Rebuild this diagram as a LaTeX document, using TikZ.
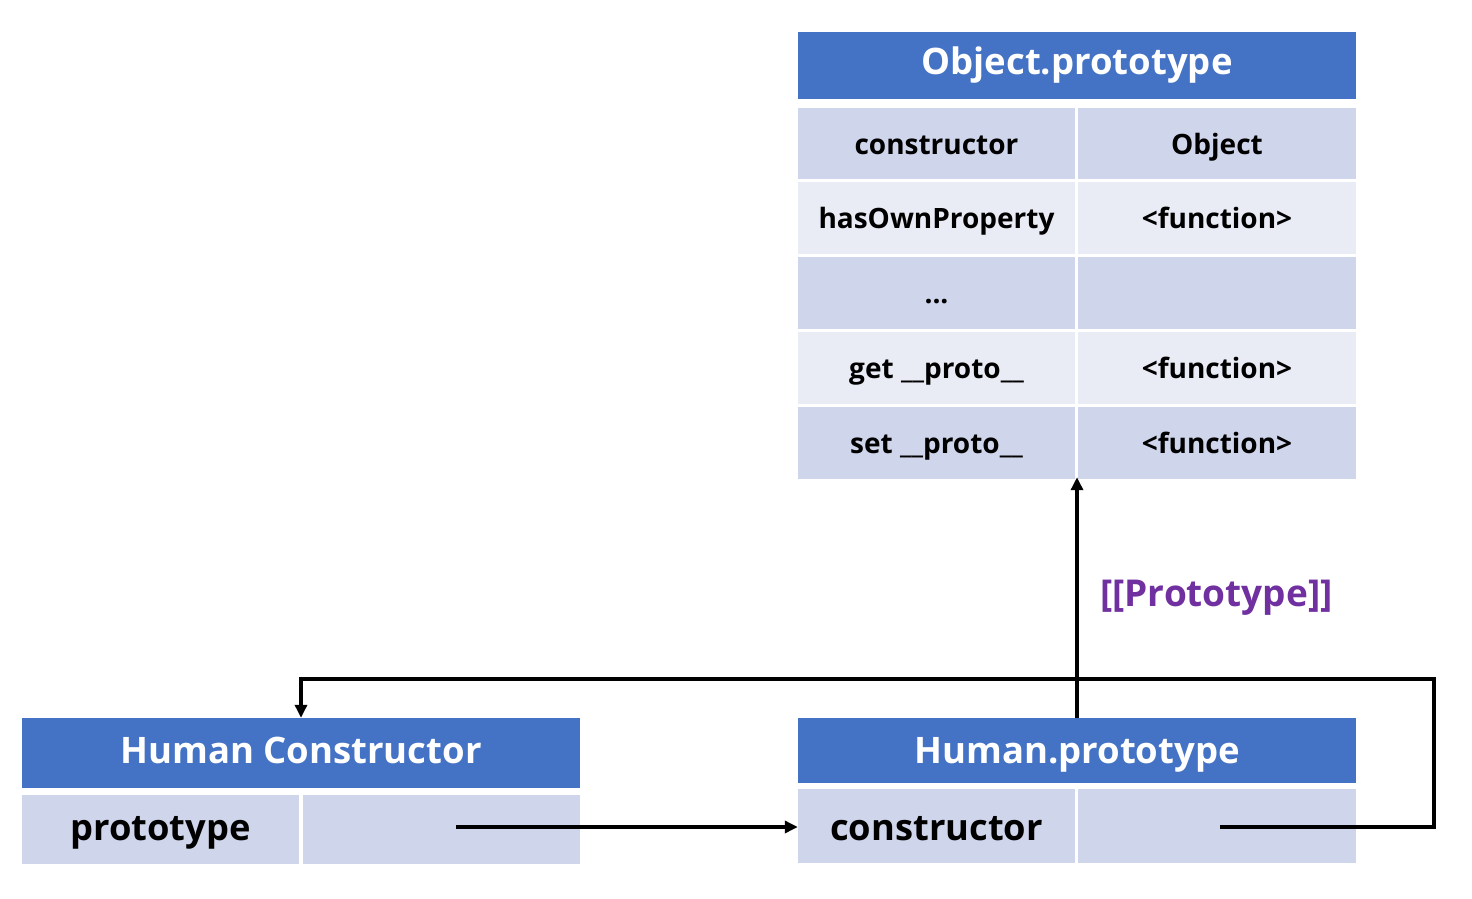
\documentclass[tikz,border=0pt]{standalone}
\usepackage{fontspec}
\setmainfont{Open Sans}
\usetikzlibrary{arrows.meta}
\definecolor{hdrblue}{HTML}{4472C4}
\definecolor{rowdark}{HTML}{CFD5EA}
\definecolor{rowlight}{HTML}{E9EBF5}
\definecolor{protopurple}{HTML}{7030A0}
\tikzset{
  hdr/.style={fill=hdrblue, text=white, font=\bfseries\fontsize{36.5}{40}\selectfont, inner sep=0pt, minimum width=558pt},
  cell/.style={inner sep=0pt, font=\bfseries\fontsize{28}{32}\selectfont, text=black, text height=30.5pt, text depth=9.5pt},
  bigcell/.style={inner sep=0pt, font=\bfseries\fontsize{36.3}{40}\selectfont, text=black},
  dk/.style={fill=rowdark},
  lt/.style={fill=rowlight},
  conn/.style={line width=4pt, -{Triangle[length=13pt,width=12pt]}}
}
\begin{document}
\begin{tikzpicture}[x=1pt,y=-1pt]
\useasboundingbox (0,0) rectangle (1472,899);
% Object.prototype
\node[hdr, minimum height=67pt, text height=29pt, text depth=11pt] (objh) at (1077,65.5) {Object.prototype};
\node[cell,dk,minimum width=277pt,minimum height=71pt] (c1k) at (936.5,143.5) {constructor};
\node[cell,dk,minimum width=278pt,minimum height=71pt] (c1v) at (1217,143.5) {Object};
\node[cell,lt,minimum width=277pt,minimum height=72pt] (c2k) at (936.5,218) {hasOwnProperty};
\node[cell,lt,minimum width=278pt,minimum height=72pt] (c2v) at (1217,218) {<function>};
\node[cell,dk,minimum width=277pt,minimum height=72pt] (c3k) at (936.5,293) {...};
\node[cell,dk,minimum width=278pt,minimum height=72pt] (c3v) at (1217,293) {};
\node[cell,lt,minimum width=277pt,minimum height=72pt] (c4k) at (936.5,368) {get \_\_proto\_\_};
\node[cell,lt,minimum width=278pt,minimum height=72pt] (c4v) at (1217,368) {<function>};
\node[cell,dk,minimum width=277pt,minimum height=72pt] (c5k) at (936.5,443) {set \_\_proto\_\_};
\node[cell,dk,minimum width=278pt,minimum height=72pt] (c5v) at (1217,443) {<function>};
% Human Constructor
\node[hdr, minimum height=70pt, text height=30.6pt, text depth=9.4pt] (hch) at (301,753) {Human Constructor};
\node[bigcell,dk,minimum width=277pt,minimum height=69pt, text height=31pt, text depth=9pt] (hck) at (160.5,829) {prototype};
\node[bigcell,dk,minimum width=277pt,minimum height=69pt] (hcv) at (441.5,829) {};
% Human.prototype
\node[hdr, minimum height=65pt, text height=32.5pt, text depth=7.5pt] (hph) at (1077,750.5) {Human.prototype};
\node[bigcell,dk,minimum width=277pt,minimum height=74pt, text height=34pt, text depth=6pt] (hpk) at (936.5,826) {constructor};
\node[bigcell,dk,minimum width=278pt,minimum height=74pt] (hpv) at (1217,826) {};
% label
\node[anchor=base west, inner sep=0pt, text=protopurple, font=\bfseries\fontsize{37}{40}\selectfont] (lbl) at (1100,606.5) {[[Prototype]]};
% connectors
\coordinate (s1) at (456,827);
\coordinate (s2) at (1220,827);
\coordinate (t2a) at (1434,827);
\coordinate (t2b) at (1434,679);
\draw[conn] (s1) -- (s1 -| hpk.west);
\draw[conn] (s2) -- (t2a) -- (t2b) -- (t2b -| hch.north) -- (hch.north);
\draw[conn] (hph.north) -- ([yshift=2pt]hph.north |- c5k.south);
\end{tikzpicture}
\end{document}
